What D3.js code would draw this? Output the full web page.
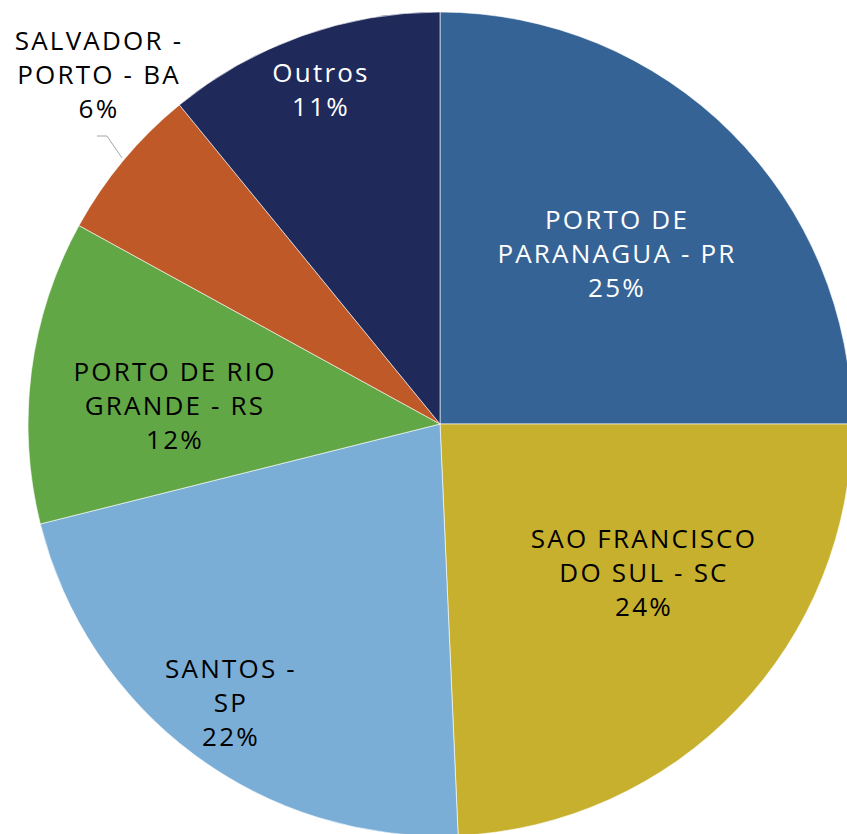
<!DOCTYPE html>
<html>
<head>
<meta charset="utf-8">
<script src="https://cdn.jsdelivr.net/npm/d3@7"></script>
<style>
  html, body { margin: 0; padding: 0; background: #fff; }
  svg { display: block; }
</style>
</head>
<body>
<svg id="chart" width="847" height="834"></svg>
<script>
// ---- data ----
const categories = ["PORTO DE PARANAGUA - PR", "SAO FRANCISCO DO SUL - SC", "SANTOS - SP", "PORTO DE RIO GRANDE - RS", "SALVADOR - PORTO - BA", "Outros"];
const labelLines = [["PORTO DE", "PARANAGUA - PR"], ["SAO FRANCISCO", "DO SUL - SC"], ["SANTOS -", "SP"], ["PORTO DE RIO", "GRANDE - RS"], ["SALVADOR -", "PORTO - BA"], ["Outros"]];
const values = [25.0, 24.3, 21.8, 11.9, 6.1, 10.9];
const colors = ["#366396", "#C7B02E", "#7BAED6", "#62A745", "#C05928", "#1F295A"];
const textColors = ["#ffffff", "#000000", "#000000", "#000000", "#000000", "#ffffff"];

// ---- layout ----
const W = 847, H = 834;
const cx = 440, cy = 424, R = 412;
const labelPos = [[617, 254], [644, 573], [231, 703], [175, 406], [99, 75], [321, 90]];
const lineH = 34;
const fontSize = 26;
const letterSpacing = 2.2;

const svg = d3.select("#chart");
const g = svg.append("g").attr("transform", `translate(${cx},${cy})`);

const pie = d3.pie().sort(null).value(d => d.v);
const data = pie(categories.map((c, i) => ({ c, v: values[i], i })));
const arc = d3.arc().innerRadius(0).outerRadius(R);
const total = d3.sum(values);

g.selectAll("path.slice")
  .data(data)
  .enter().append("path")
  .attr("class", "slice")
  .attr("d", arc)
  .attr("fill", d => colors[d.data.i])
  .attr("stroke", "#ffffff")
  .attr("stroke-opacity", 0.6)
  .attr("stroke-width", 1);

// leader line for Salvador
svg.append("polyline")
  .attr("points", "97,136 107,136 122,158")
  .attr("fill", "none")
  .attr("stroke", "#A6A6A6")
  .attr("stroke-width", 1);

const labels = svg.selectAll("text.lbl")
  .data(data)
  .enter().append("text")
  .attr("class", "lbl")
  .attr("text-anchor", "middle")
  .attr("font-family", "'Open Sans', sans-serif")
  .attr("font-size", fontSize)
  .attr("letter-spacing", letterSpacing)
  .attr("fill", d => textColors[d.data.i]);

labels.each(function(d) {
  const i = d.data.i;
  const lines = labelLines[i].concat([Math.round(d.data.v / total * 100) + "%"]);
  const [lx, ly] = labelPos[i];
  const n = lines.length;
  const t = d3.select(this);
  lines.forEach((ln, k) => {
    t.append("tspan")
      .attr("x", lx)
      .attr("y", ly + (k - (n - 1) / 2) * lineH)
      .attr("dy", "0.35em")
      .text(ln);
  });
});
</script>
</body>
</html>
